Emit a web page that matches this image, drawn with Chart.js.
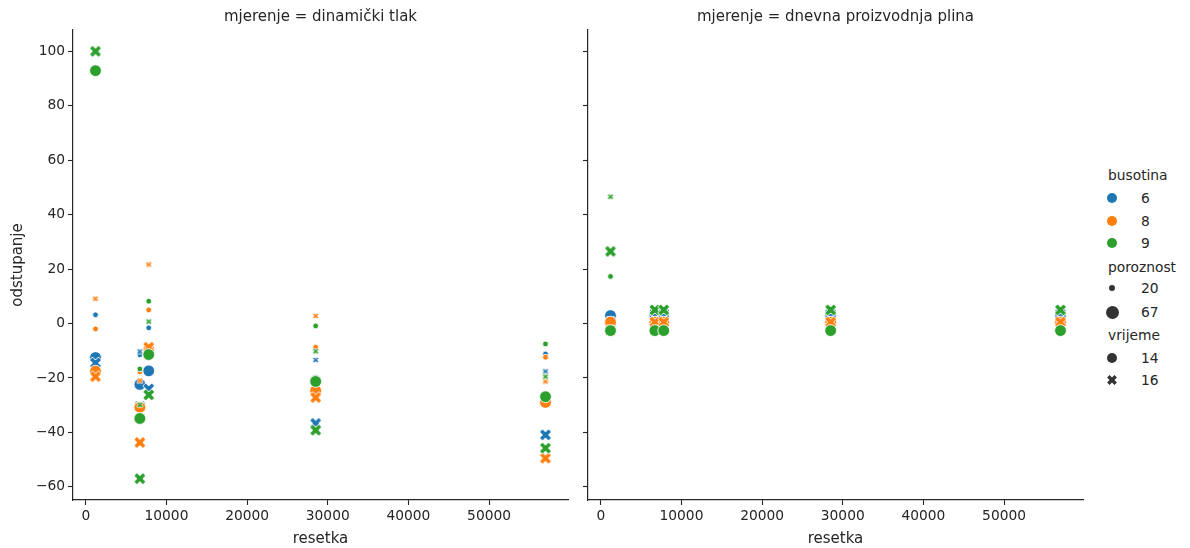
<!DOCTYPE html>
<html><head><meta charset="utf-8">
<script src="https://cdn.jsdelivr.net/npm/chart.js@4.4.1/dist/chart.umd.min.js"></script>
<style>
html,body{margin:0;padding:0;background:#fff;}
body{width:1190px;height:548px;overflow:hidden;position:relative;font-family:"DejaVu Sans";}
#c1{position:absolute;left:0;top:0;}
#c2{position:absolute;left:580px;top:0;}
.lt{position:absolute;font-size:13.8px;color:#262626;line-height:16px;height:16px;white-space:nowrap;}
.mk{position:absolute;}
</style></head><body>
<canvas id="c1" width="580" height="548"></canvas>
<canvas id="c2" width="520" height="548"></canvas>
<div id="legend"></div>
<script>
// ---- data ----
const resetka = [1200, 6700, 7800, 28500, 57000];
const xTicks = [0, 10000, 20000, 30000, 40000, 50000];
const yTicks = [-60, -40, -20, 0, 20, 40, 60, 80, 100];
const facetTitles = ['mjerenje = dinamički tlak', 'mjerenje = dnevna proizvodnja plina'];
const busotina = [6, 8, 9];
const poroznost = [20, 67];
const vrijeme = [14, 16];

// mjerenje = dinamički tlak  (busotina / poroznost / vrijeme)
const dt_b6_p20_t14 = [3.2, -11.5, -1.6, -9.0, -11.2];
const dt_b6_p20_t16 = [-13.0, -10.3, -11.5, -13.4, -17.6];
const dt_b6_p67_t14 = [-12.5, -22.4, -17.4, -21.0, -27.0];
const dt_b6_p67_t16 = [-14.5, -30.5, -24.0, -36.7, -40.9];
const dt_b8_p20_t14 = [-2.0, -17.8, 5.0, -8.7, -12.4];
const dt_b8_p20_t16 = [9.1, -21.0, 21.7, 2.8, -21.3];
const dt_b8_p67_t14 = [-17.5, -30.8, -9.5, -24.7, -29.0];
const dt_b8_p67_t16 = [-19.5, -43.7, -8.7, -27.2, -49.5];
const dt_b9_p20_t14 = [93.0, -16.7, 8.2, -0.9, -7.5];
const dt_b9_p20_t16 = [99.5, -29.9, 0.7, -10.2, -19.5];
const dt_b9_p67_t14 = [92.9, -34.9, -11.4, -21.3, -26.9];
const dt_b9_p67_t16 = [100.0, -57.0, -26.2, -39.2, -45.8];

// mjerenje = dnevna proizvodnja plina
const dp_b6_p20_t14 = [2.9, 2.9, 2.9, 2.9, 2.9];
const dp_b6_p20_t16 = [2.9, 3.5, 3.5, 3.5, 3.5];
const dp_b6_p67_t14 = [2.9, 2.9, 2.9, 2.9, 2.9];
const dp_b6_p67_t16 = [0.5, 3.6, 3.6, 3.6, 3.6];
const dp_b8_p20_t14 = [0.5, 0.5, 0.5, 0.5, 0.5];
const dp_b8_p20_t16 = [0.5, 0.5, 0.5, 0.5, 0.5];
const dp_b8_p67_t14 = [0.5, 0.5, 0.5, 0.5, 0.5];
const dp_b8_p67_t16 = [-2.6, 0.5, 0.5, 0.5, 0.5];
const dp_b9_p20_t14 = [17.3, -2.6, -2.6, -2.6, -2.6];
const dp_b9_p20_t16 = [46.6, 5.0, 5.0, 5.0, 5.0];
const dp_b9_p67_t14 = [-2.6, -2.6, -2.6, -2.6, -2.6];
const dp_b9_p67_t16 = [26.5, 5.0, 5.0, 5.0, 5.0];

const panelSeries = [
  {6:{20:{14:dt_b6_p20_t14,16:dt_b6_p20_t16},67:{14:dt_b6_p67_t14,16:dt_b6_p67_t16}},
   8:{20:{14:dt_b8_p20_t14,16:dt_b8_p20_t16},67:{14:dt_b8_p67_t14,16:dt_b8_p67_t16}},
   9:{20:{14:dt_b9_p20_t14,16:dt_b9_p20_t16},67:{14:dt_b9_p67_t14,16:dt_b9_p67_t16}}},
  {6:{20:{14:dp_b6_p20_t14,16:dp_b6_p20_t16},67:{14:dp_b6_p67_t14,16:dp_b6_p67_t16}},
   8:{20:{14:dp_b8_p20_t14,16:dp_b8_p20_t16},67:{14:dp_b8_p67_t14,16:dp_b8_p67_t16}},
   9:{20:{14:dp_b9_p20_t14,16:dp_b9_p20_t16},67:{14:dp_b9_p67_t14,16:dp_b9_p67_t16}}}
];

// ---- styles ----
const FONT = '"DejaVu Sans"';
const TXT = '#262626';
const COL = {6:'#1f77b4', 8:'#ff7f0e', 9:'#2ca02c'};
const RAD = {20:2.9, 67:5.9};
const XL = {20:3.3, 67:6.3};

function xMarker(color, L, edge){
  const w = L/3;
  const ext = Math.ceil((L+w)/Math.SQRT2*2 + 4);
  const c = document.createElement('canvas');
  c.width = c.height = ext % 2 ? ext+1 : ext;
  const g = c.getContext('2d');
  g.translate(c.width/2, c.height/2);
  g.rotate(Math.PI/4);
  const pts = [[-w,-L],[w,-L],[w,-w],[L,-w],[L,w],[w,w],[w,L],[-w,L],[-w,w],[-L,w],[-L,-w],[-w,-w]];
  g.beginPath();
  pts.forEach((p,i)=> i? g.lineTo(p[0],p[1]) : g.moveTo(p[0],p[1]));
  g.closePath();
  g.fillStyle = color; g.fill();
  if (edge) { g.strokeStyle = '#fff'; g.lineWidth = 0.9; g.stroke(); }
  return c;
}

function buildDatasets(series){
  const ds = [];
  busotina.forEach(b=>{
    [[20,14],[20,16],[67,14],[67,16]].forEach(([p,t])=>{
      const vals = series[b][p][t];
      const isX = t === 16;
      ds.push({
        label: b+'/'+p+'/'+t,
        data: resetka.map((x,i)=>({x:x, y:vals[i]})),
        pointStyle: isX ? xMarker(COL[b], XL[p], true) : 'circle',
        pointRadius: RAD[p],
        backgroundColor: COL[b],
        borderColor: '#ffffff',
        borderWidth: isX ? 0 : 0.9,
        showLine: false
      });
    });
  });
  // Chart.js paints dataset 0 last (on top): reverse so later entries are on top
  return ds.reverse();
}

function makePanel(id, idx, yW, rightPad){
  const showLabels = idx === 0;
  return new Chart(document.getElementById(id), {
    type: 'scatter',
    data: {datasets: buildDatasets(panelSeries[idx])},
    options: {
      responsive: false, animation: false, devicePixelRatio: 1,
      layout: {padding: {left:0, right:rightPad, top:0, bottom:0}},
      plugins: {
        legend: {display:false}, tooltip: {enabled:false},
        title: {display:true, text:facetTitles[idx], fullSize:false, color:TXT,
                font:{family:FONT, size:15, weight:'normal'}, padding:{top:8, bottom:4}}
      },
      scales: {
        x: {
          type:'linear', min:-1590, max:59790,
          afterBuildTicks: s => { s.ticks = xTicks.map(v=>({value:v})); },
          afterFit: s => { s.height = 48; },
          ticks: {callback: v => String(v), color:TXT, font:{family:FONT, size:13.8},
                  padding:3, maxRotation:0, autoSkip:false},
          grid: {display:true, drawOnChartArea:false, drawTicks:true, tickLength:5, tickColor:TXT, tickWidth:1.1},
          border: {display:true, color:TXT, width:1.2},
          title: {display:true, text:'resetka', color:TXT, font:{family:FONT, size:15}, padding:{top:0, bottom:0}}
        },
        y: {
          type:'linear', min:-64.85, max:107.85,
          afterBuildTicks: s => { s.ticks = yTicks.map(v=>({value:v})); },
          afterFit: s => { s.width = yW; },
          ticks: {display: showLabels, callback: v => showLabels ? String(v).replace('-', '\u2212') : '',
                  color:TXT, font:{family:FONT, size:13.8}, padding:3, autoSkip:false},
          grid: {display:true, drawOnChartArea:false, drawTicks:true, tickLength:5, tickColor:TXT, tickWidth:1.1},
          border: {display:true, color:TXT, width:1.2},
          title: {display: showLabels, text:'odstupanje', color:TXT, font:{family:FONT, size:15}, padding:{top:9, bottom:0}}
        }
      }
    }
  });
}

makePanel('c1', 0, 73, 12);
makePanel('c2', 1, 8, 17);

// ---- legend (seaborn style) ----
const lg = document.getElementById('legend');
const MX = 1112, LX = 1141, SX = 1108;
function text(str, x, cy){
  const d = document.createElement('div');
  d.className = 'lt'; d.textContent = str;
  d.style.left = x + 'px'; d.style.top = (cy - 8) + 'px';
  lg.appendChild(d);
}
function dot(color, diam, cy){
  const d = document.createElement('div');
  d.className = 'mk';
  d.style.cssText += `left:${MX-diam/2}px;top:${cy-diam/2}px;width:${diam}px;height:${diam}px;border-radius:50%;background:${color};`;
  lg.appendChild(d);
}
function xmk(color, L, cy){
  const c = xMarker(color, L, false);
  c.className = 'mk';
  c.style.left = (MX - c.width/2) + 'px'; c.style.top = (cy - c.height/2) + 'px';
  lg.appendChild(c);
}
const legendRows = [
  ['busotina', 175], ['6', 198], ['8', 221], ['9', 243],
  ['poroznost', 267], ['20', 288], ['67', 312],
  ['vrijeme', 335], ['14', 358], ['16', 380]
];
text(legendRows[0][0], SX, legendRows[0][1]);
busotina.forEach((b,i)=>{ const cy = legendRows[1+i][1]; dot(COL[b], 10, cy); text(String(b), LX, cy); });
text(legendRows[4][0], SX, legendRows[4][1]);
dot('#333333', 6.5, legendRows[5][1]); text(String(poroznost[0]), LX, legendRows[5][1]);
dot('#333333', 13, legendRows[6][1]); text(String(poroznost[1]), LX, legendRows[6][1]);
text(legendRows[7][0], SX, legendRows[7][1]);
dot('#333333', 10, legendRows[8][1]); text(String(vrijeme[0]), LX, legendRows[8][1]);
xmk('#333333', 5.2, legendRows[9][1]); text(String(vrijeme[1]), LX, legendRows[9][1]);
</script>
</body></html>
